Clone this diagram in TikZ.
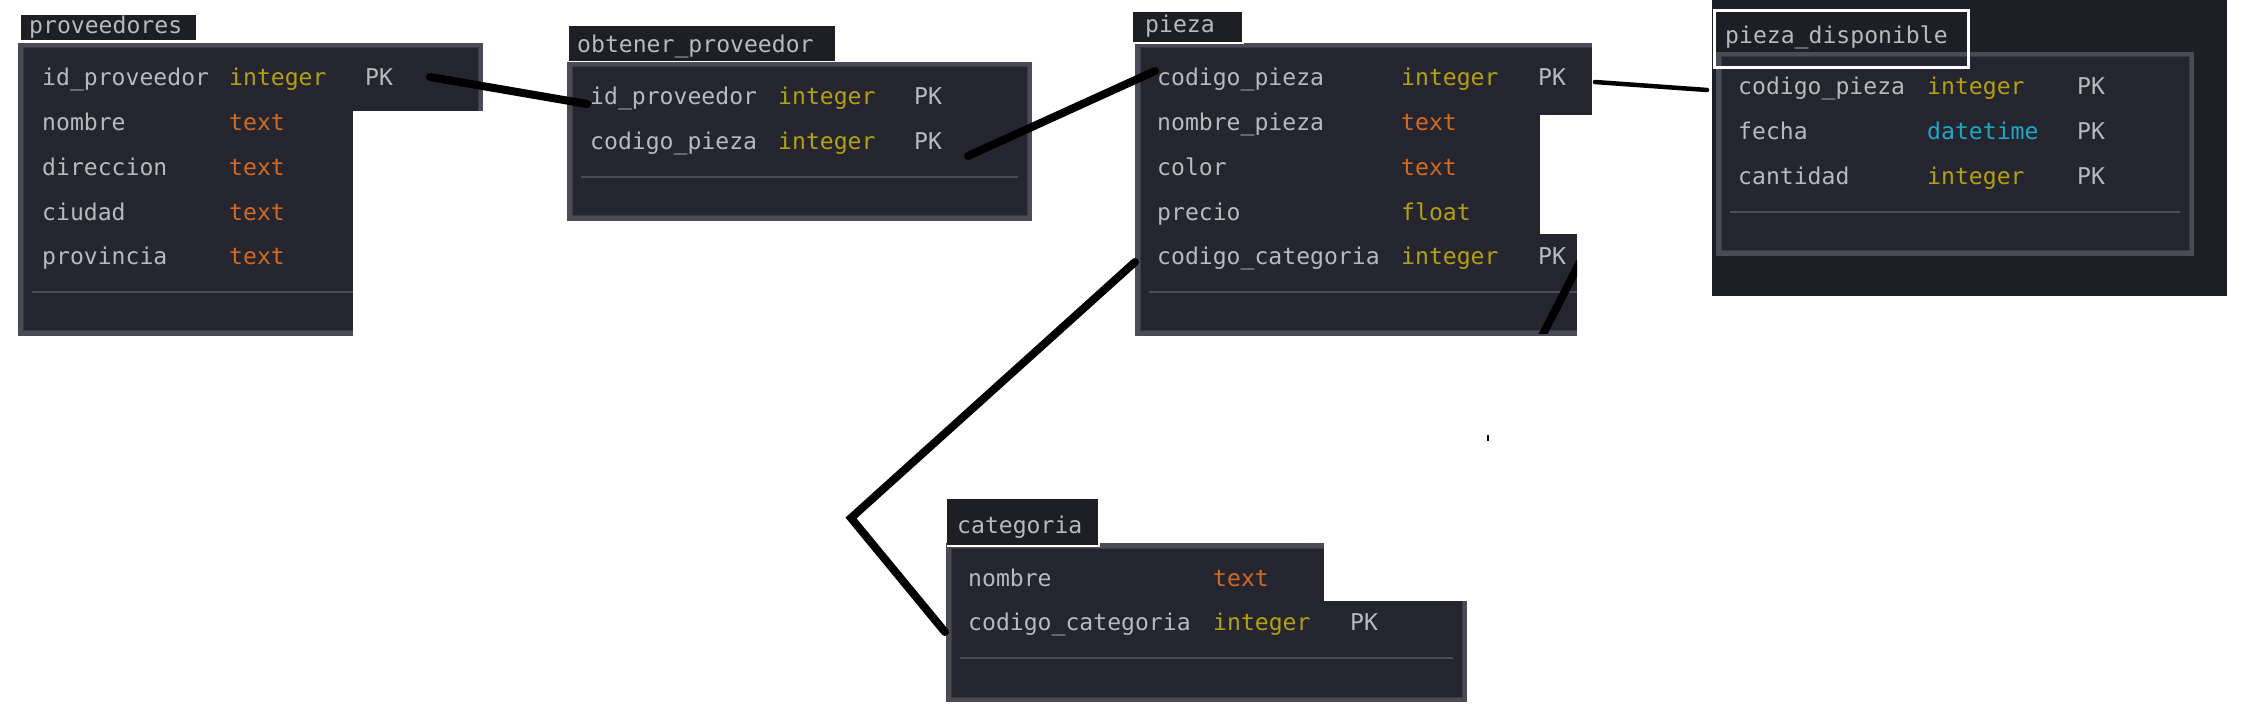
\documentclass[tikz,border=0pt]{standalone}
\usepackage{fontspec}
\newfontfamily\dbmono{DejaVu Sans Mono}
\definecolor{tagbg}{HTML}{1E1F24}
\definecolor{tblfill}{HTML}{24252E}
\definecolor{tblframe}{HTML}{4A4B57}
\definecolor{tbledge}{HTML}{393A44}
\definecolor{fldgray}{HTML}{B8B9BD}
\definecolor{cInt}{HTML}{B4A00E}
\definecolor{cText}{HTML}{D2691E}
\definecolor{cTime}{HTML}{1FA5C6}

\begin{document}
\begin{tikzpicture}[x=1pt, y=-1pt,
fld/.style={anchor=base west, inner sep=0pt, text=fldgray, font=\dbmono\fontsize{23.1}{28}\selectfont},
link/.style={line width=8pt, line cap=round},
sep/.style={draw=tblframe, line width=2.5pt}]
\useasboundingbox (0,0) rectangle (2247,708);
\fill[white] (0,0) rectangle (2247,708);
\fill[tagbg] (1712,0) rectangle (2227,296);

\foreach \l/\t/\r/\b in {18/43/483/336, 567/62/1032/221, 1135/43/1614/336, 1716/52/2194/256, 946/543/1467/702}{
\fill[tblframe] (\l,\t) rectangle (\r,\b);
\filldraw[fill=tblfill, draw=tbledge, line width=1pt] (\l+5,\t+5) rectangle (\r-5,\b-5);
\draw[sep] (\l+14,\b-44) -- (\r-14,\b-44);
}

\fill[white] (353,111) rectangle (490,340);
\fill[white] (1592,38) rectangle (1616,340);
\fill[white] (1540,115) rectangle (1592,234);
\fill[white] (1577,234) rectangle (1592,340);
\fill[white] (1324,540) rectangle (1470,601);

\fill[tagbg] (21,15) rectangle (196,40);
\node[fld] (provT) at (29,34) {proveedores};
\fill[tagbg] (569,26) rectangle (835,61);
\node[fld] (obtT) at (577,53) {obtener\_proveedor};
\fill[tagbg] (1133,12) rectangle (1243,43);
\draw[white, line width=1.5pt] (1133,43) -- (1243,43) -- (1243,12);
\node[fld] (piezaT) at (1145,33) {pieza};
\fill[tagbg] (947,499) rectangle (1099,546);
\draw[white, line width=1.5pt] (947,546) -- (1099,546) -- (1099,499);
\node[fld] (catT) at (957,533) {categoria};
\draw[white, line width=3pt] (1714,11) rectangle (1968,68);
\node[fld] (dispT) at (1725,44) {pieza\_disponible};

\foreach \n/\ty/\col [count=\i] in {id\_proveedor/integer/cInt, nombre/text/cText, direccion/text/cText, ciudad/text/cText, provincia/text/cText}{
\node[fld] (prov-n\i) at (42,41.25+44.75*\i) {\n};
\node[fld, text=\col] (prov-t\i) at (229,41.25+44.75*\i) {\ty};
}
\node[fld] (prov-k1) at (365,86) {PK};

\foreach \n/\ty/\col [count=\i] in {id\_proveedor/integer/cInt, codigo\_pieza/integer/cInt}{
\node[fld] (obt-n\i) at (590,60.25+44.75*\i) {\n};
\node[fld, text=\col] (obt-t\i) at (778,60.25+44.75*\i) {\ty};
\node[fld] (obt-k\i) at (914,60.25+44.75*\i) {PK};
}

\foreach \n/\ty/\col [count=\i] in {codigo\_pieza/integer/cInt, nombre\_pieza/text/cText, color/text/cText, precio/float/cInt, codigo\_categoria/integer/cInt}{
\node[fld] (pieza-n\i) at (1157,41.25+44.75*\i) {\n};
\node[fld, text=\col] (pieza-t\i) at (1401,41.25+44.75*\i) {\ty};
}
\node[fld] (pieza-k1) at (1538,86) {PK};
\node[fld] (pieza-k5) at (1538,265) {PK};

\foreach \n/\ty/\col [count=\i] in {codigo\_pieza/integer/cInt, fecha/datetime/cTime, cantidad/integer/cInt}{
\node[fld] (disp-n\i) at (1738,50.25+44.75*\i) {\n};
\node[fld, text=\col] (disp-t\i) at (1927,50.25+44.75*\i) {\ty};
\node[fld] (disp-k\i) at (2077,50.25+44.75*\i) {PK};
}

\foreach \n/\ty/\col [count=\i] in {nombre/text/cText, codigo\_categoria/integer/cInt}{
\node[fld] (cat-n\i) at (968,541.25+44.75*\i) {\n};
\node[fld, text=\col] (cat-t\i) at (1213,541.25+44.75*\i) {\ty};
}
\node[fld] (cat-k2) at (1350,630.75) {PK};

\coordinate (provOut) at (430,77);
\coordinate (obtIn) at (587,104);
\coordinate (obtOut) at (968,156);
\coordinate (piezaIn) at (1155,71);
\coordinate (piezaOut) at (1595,82);
\coordinate (dispIn) at (1707,90);
\coordinate (piezaCat) at (1135,262);
\coordinate (bend) at (851,518);
\coordinate (catIn) at (945,632);
\coordinate (stubA) at (1580,262);
\coordinate (stubB) at (1540,340);

\draw[link] (provOut) -- (obtIn);
\draw[link] (obtOut) -- (piezaIn);
\draw[link, line width=4.5pt] (piezaOut) -- (dispIn);
\draw[link, line join=miter] (piezaCat) -- (bend) -- (catIn);
\begin{scope}
\clip (1135,43) rectangle (1577,334);
\draw[link, line cap=butt] (stubA) -- (stubB);
\end{scope}
\fill (1487,435) rectangle (1489,441);
\end{tikzpicture}
\end{document}
